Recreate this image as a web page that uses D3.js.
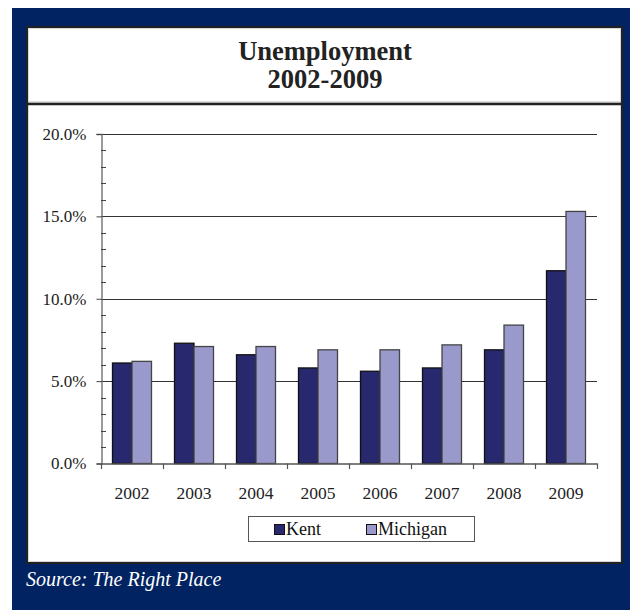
<!DOCTYPE html>
<html>
<head>
<meta charset="utf-8">
<script src="https://cdn.jsdelivr.net/npm/d3@7/dist/d3.min.js"></script>
<style>
  html, body { margin: 0; padding: 0; background: #ffffff; }
  svg { display: block; }
</style>
</head>
<body>
<svg id="chart" width="630" height="610"></svg>
<script>
// Unemployment rates (%), Kent County vs. Michigan
const years = ["2002", "2003", "2004", "2005", "2006", "2007", "2008", "2009"];
const kent = [6.1, 7.3, 6.6, 5.8, 5.6, 5.8, 6.9, 11.7];
const michigan = [6.2, 7.1, 7.1, 6.9, 6.9, 7.2, 8.4, 15.3];
const seriesNames = ["Kent", "Michigan"];
const seriesColors = ["#27286e", "#9999cc"];
const yTicks = [0, 5, 10, 15, 20];
const titleLines = ["Unemployment", "2002-2009"];
const sourceNote = "Source: The Right Place";

const svg = d3.select("#chart");
const serif = "'Liberation Serif', 'Times New Roman', serif";

// Navy frame
svg.append("rect").attr("x", 12).attr("y", 8).attr("width", 618).attr("height", 602)
  .attr("fill", "#012361");

// White panel with dark border
svg.append("rect").attr("x", 27).attr("y", 27).attr("width", 595).attr("height", 536)
  .attr("fill", "#ffffff").attr("stroke", "#222").attr("stroke-width", 2);
// inner light edge
svg.append("rect").attr("x", 28.5).attr("y", 28.5).attr("width", 592).attr("height", 533)
  .attr("fill", "none").attr("stroke", "#d8d8d8").attr("stroke-width", 1);

// Title separator
svg.append("line").attr("x1", 28).attr("x2", 621).attr("y1", 102).attr("y2", 102)
  .attr("stroke", "#bbb").attr("stroke-width", 1);
svg.append("line").attr("x1", 27).attr("x2", 622).attr("y1", 104).attr("y2", 104)
  .attr("stroke", "#222").attr("stroke-width", 2.5);

// Title
svg.append("g").selectAll("text").data(titleLines).join("text")
  .attr("x", 325).attr("y", (d, i) => 60 + i * 28)
  .attr("text-anchor", "middle")
  .attr("font-family", serif).attr("font-weight", "bold").attr("font-size", 26.5)
  .attr("fill", "#222")
  .text(d => d);

// Scales
const x = d3.scaleBand().domain(years).range([101, 597]).paddingInner(0).paddingOuter(0);
const xs = d3.scaleBand().domain(seriesNames).range([11.5, 50.5]);
const y = d3.scaleLinear().domain([0, 20]).range([463.5, 134]);

// Gridlines
svg.append("g").selectAll("line").data(yTicks.filter(d => d > 0)).join("line")
  .attr("x1", 101).attr("x2", 597)
  .attr("y1", d => Math.round(y(d)) + 0.5).attr("y2", d => Math.round(y(d)) + 0.5)
  .attr("stroke", "#333").attr("stroke-width", 1);

// Bars
const groups = svg.append("g").selectAll("g").data(years).join("g")
  .attr("transform", d => `translate(${x(d)},0)`);
groups.selectAll("rect")
  .data((d, i) => [{ s: 0, v: kent[i] }, { s: 1, v: michigan[i] }])
  .join("rect")
  .attr("x", d => xs(seriesNames[d.s]))
  .attr("width", xs.bandwidth())
  .attr("y", d => y(d.v))
  .attr("height", d => y(0) - y(d.v))
  .attr("fill", d => seriesColors[d.s])
  .attr("stroke", d => d.s === 0 ? "#111" : "#444")
  .attr("stroke-width", 1.3);

// Y axis with percentage labels
const yAxis = d3.axisLeft(y).tickValues(yTicks).tickSize(5).tickPadding(10)
  .tickFormat(d => d3.format(".1f")(d) + "%");
const yg = svg.append("g").attr("transform", "translate(101.5,0)").call(yAxis);
yg.select(".domain").attr("stroke", "#666").attr("stroke-width", 1.3);
yg.selectAll(".tick line").attr("stroke", "#444");
yg.selectAll(".tick text").attr("font-family", serif).attr("font-size", 17).attr("fill", "#222");

// Minor ticks every 1%
const minor = d3.range(0, 21).filter(d => d % 5 !== 0);
svg.append("g").selectAll("line").data(minor).join("line")
  .attr("x1", 101).attr("x2", 106)
  .attr("y1", d => Math.round(y(d)) + 0.5).attr("y2", d => Math.round(y(d)) + 0.5)
  .attr("stroke", "#444").attr("stroke-width", 1);

// X axis
const xAxis = d3.axisBottom(x).tickSize(0).tickPadding(23);
const xg = svg.append("g").attr("transform", "translate(0,463.5)").call(xAxis);
xg.select(".domain").attr("stroke", "#555").attr("stroke-width", 1.3);
xg.selectAll(".tick text").attr("font-family", serif).attr("font-size", 17.5).attr("fill", "#222");
// category boundary ticks
const bounds = years.map(d => x(d)).concat([x(years[years.length - 1]) + x.step()]);
svg.append("g").selectAll("line").data(bounds).join("line")
  .attr("x1", d => d + 0.5).attr("x2", d => d + 0.5)
  .attr("y1", 463.5).attr("y2", 469)
  .attr("stroke", "#555").attr("stroke-width", 1.2);

// Legend
const legend = svg.append("g");
legend.append("rect").attr("x", 248.5).attr("y", 516.5).attr("width", 226).attr("height", 25)
  .attr("fill", "#fff").attr("stroke", "#555").attr("stroke-width", 1);
const legendX = [274, 366];
const items = legend.selectAll("g").data(seriesNames).join("g")
  .attr("transform", (d, i) => `translate(${legendX[i]},0)`);
items.append("rect").attr("x", 0.5).attr("y", 524.5).attr("width", 10).attr("height", 10)
  .attr("fill", (d, i) => seriesColors[i]).attr("stroke", "#111").attr("stroke-width", 1);
items.append("text").attr("x", 12).attr("y", 535)
  .attr("font-family", serif).attr("font-size", 18).attr("fill", "#111")
  .text(d => d);

// Source note
svg.append("text").attr("x", 26).attr("y", 586)
  .attr("font-family", serif).attr("font-style", "italic").attr("font-size", 20)
  .attr("fill", "#ffffff")
  .text(sourceNote);
</script>
</body>
</html>
